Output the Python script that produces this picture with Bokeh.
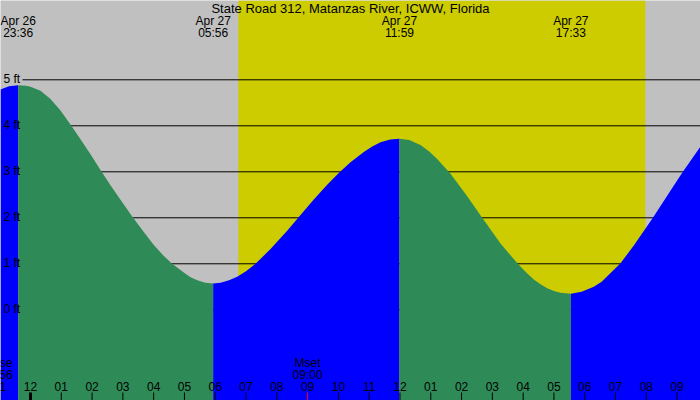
from bokeh.plotting import figure
from bokeh.models import Range1d, ColumnDataSource
from bokeh.core.properties import value
from bokeh.embed import file_html
from bokeh.resources import INLINE

# ---- data (hours relative to 00:00 Apr 27, heights in ft) ----
tide_hours = [-0.974, -0.70, -0.4, -0.15, 0.0, 0.325, 0.65, 0.974, 1.299, 1.624,
              1.949, 2.273, 2.598, 2.923, 3.303, 3.680, 4.005, 4.30, 4.579, 4.979,
              5.20, 5.414, 5.68, 5.933, 6.171, 6.45, 6.713, 7.0, 7.308, 7.795,
              8.337, 8.681, 9.201, 9.636, 10.02, 10.393, 10.825, 11.10, 11.367,
              11.68, 11.983, 12.30, 12.667, 12.95, 13.209, 13.641, 14.183, 14.670,
              15.265, 15.826, 16.10, 16.346, 16.55, 16.781, 17.0, 17.213, 17.55,
              17.9, 18.295, 18.55, 18.782, 19.162, 19.594, 20.192, 20.70, 21.166,
              21.760]
tide_ft = [4.79, 4.86, 4.88, 4.87, 4.85, 4.76, 4.58, 4.33, 4.03, 3.71,
           3.38, 3.04, 2.71, 2.39, 2.03, 1.69, 1.41, 1.19, 1.01, 0.81,
           0.71, 0.64, 0.59, 0.57, 0.59, 0.64, 0.72, 0.84, 1.00, 1.32,
           1.72, 1.99, 2.40, 2.72, 2.98, 3.21, 3.43, 3.55, 3.64,
           3.70, 3.72, 3.69, 3.58, 3.44, 3.28, 2.96, 2.47, 2.00,
           1.44, 1.00, 0.81, 0.66, 0.56, 0.47, 0.41, 0.37, 0.35,
           0.39, 0.50, 0.61, 0.76, 1.01, 1.40, 1.98, 2.50, 2.98,
           3.55]

extreme_hours = [-0.4, 5.933, 11.983, 17.55]
extreme_dates = ["Apr 26", "Apr 27", "Apr 27", "Apr 27"]
extreme_times = ["23:36", "05:56", "11:59", "17:33"]

sunrise_h = 6.75
sunset_h = 19.97

moon_hours = [-1.067, 9.0]
moon_names = ["Mrise", "Mset"]
moon_times = ["22:56", "09:00"]

level_ft = [0, 1, 2, 3, 4, 5]
level_labels = ["0 ft", "1 ft", "2 ft", "3 ft", "4 ft", "5 ft"]

tick_hours = list(range(-1, 22))
tick_labels = ["11", "12", "01", "02", "03", "04", "05", "06", "07", "08", "09",
               "10", "11", "12", "01", "02", "03", "04", "05", "06", "07", "08", "09"]

title = "State Road 312, Matanzas River, ICWW, Florida"

# ---- styling ----
W, H = 700, 400
X0, X1 = -0.974, 21.76
Y0, Y1 = -1.972, 6.724
GRAY = "#c0c0c0"
YELLOW = "#cccc00"
BLUE = "#0000ff"
GREEN = "#2e8b57"
FONT = value("Liberation Sans")
FS = "12px"

h_per_px = (X1 - X0) / W
ft_per_px = (Y1 - Y0) / H

p = figure(width=W, height=H, x_range=Range1d(X0, X1), y_range=Range1d(Y0, Y1),
           output_backend="svg", toolbar_location=None, min_border=0,
           x_axis_type=None, y_axis_type=None)
p.grid.visible = False
p.outline_line_color = None
p.background_fill_color = GRAY
p.border_fill_color = GRAY

# daylight
p.quad(left=[sunrise_h], right=[sunset_h], bottom=[Y0], top=[Y1],
       fill_color=YELLOW, line_color=None)

# level lines
line_x0 = X0 + 22 * h_per_px
p.segment(x0=[line_x0] * len(level_ft), x1=[X1] * len(level_ft),
          y0=level_ft, y1=level_ft, line_color="black", line_width=1)

# tide fill, split at extremes (blue rising, green falling)
n = len(tide_ft)
ext_idx = [i for i in range(1, n - 1)
           if (tide_ft[i] - tide_ft[i - 1]) * (tide_ft[i + 1] - tide_ft[i]) < 0]
bounds = [0] + ext_idx + [n - 1]
for a, b in zip(bounds[:-1], bounds[1:]):
    color = BLUE if tide_ft[b] > tide_ft[a] else GREEN
    p.varea(x=tide_hours[a:b + 1], y1=Y0, y2=tide_ft[a:b + 1],
            fill_color=color, fill_alpha=1.0)

def label(xs, ys, texts, off, align="center", size=FS):
    p.text(x=xs, y=ys, text=texts, text_font=FONT, text_font_size=size,
           text_align=align, text_baseline="middle", y_offset=off,
           text_color="black")

# level labels
label([X0 + 3 * h_per_px] * len(level_ft), level_ft, level_labels, -1, align="left")

# title
label([(X0 + X1) / 2], [Y1], [title], 8, size="13px")

# extreme labels at top
label(extreme_hours, [Y1] * 4, extreme_dates, 20)
label(extreme_hours, [Y1] * 4, extreme_times, 32)

# moon labels at bottom
label(moon_hours, [Y0] * 2, moon_names, -38)
label(moon_hours, [Y0] * 2, moon_times, -26)

# hour tick labels
label(tick_hours, [Y0] * len(tick_hours), tick_labels, -14.5)

# hour ticks
tick_w = [3 if h == 0 else 1 for h in tick_hours]
tick_c = ["red" if h == moon_hours[1] else "black" for h in tick_hours]
src = ColumnDataSource(dict(x=tick_hours, y0=[Y0] * len(tick_hours),
                            y1=[Y0 + 8 * ft_per_px] * len(tick_hours),
                            w=tick_w, c=tick_c))
p.segment(x0="x", x1="x", y0="y0", y1="y1", line_width="w", line_color="c", source=src)

open("out.html", "w").write(file_html(p, INLINE))
